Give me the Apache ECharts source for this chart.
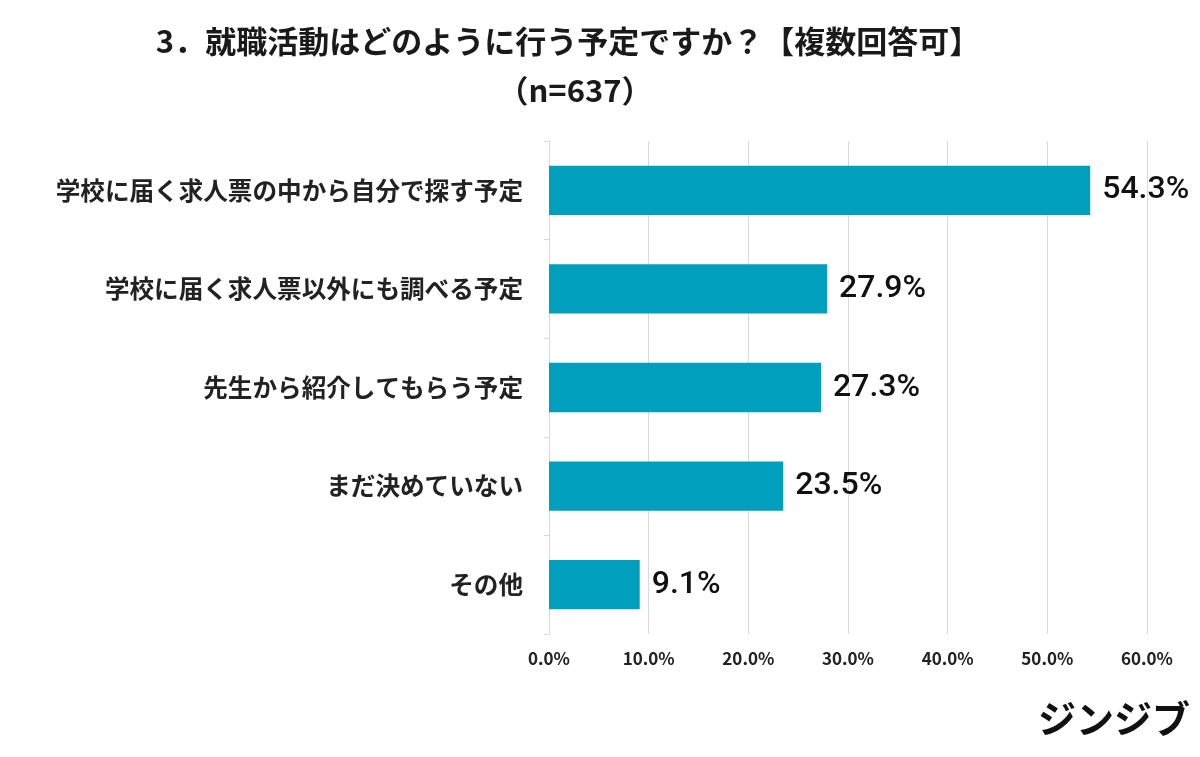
<!DOCTYPE html>
<html><head><meta charset="utf-8">
<script src="https://cdn.jsdelivr.net/npm/echarts@6/dist/echarts.min.js"></script>
<style>html,body{margin:0;padding:0;background:#fff}#c{width:1200px;height:757px}</style>
</head><body><div id="c"></div>
<script>
const categories = ['学校に届く求人票の中から自分で探す予定','学校に届く求人票以外にも調べる予定','先生から紹介してもらう予定','まだ決めていない','その他'];
const values = [54.3, 27.9, 27.3, 23.5, 9.1];
const titleText = '3．就職活動はどのように行う予定ですか？【複数回答可】';
const subText = '（n=637）';
const brand = 'ジンジブ';

const chart = echarts.init(document.getElementById('c'));
chart.setOption({
  backgroundColor: '#fff',
  animation: false,
  graphic: [
    {type:'text', x: 568, y: 26, style:{text: titleText, font:'bold 31px "Noto Sans CJK JP"', fill:'#1a1a1a', textAlign:'center', textVerticalAlign:'top'}},
    {type:'text', x: 575, y: 75, style:{text: subText, font:'bold 31px "Noto Sans CJK JP"', fill:'#1a1a1a', textAlign:'center', textVerticalAlign:'top'}},
    {type:'text', x: 1190, y: 700, style:{text: brand, font:'bold 38px "Noto Sans CJK JP"', fill:'#111', textAlign:'right', textVerticalAlign:'top'}}
  ],
  grid: {left: 549, right: 53, top: 141, bottom: 123},
  xAxis: {
    type:'value', min:0, max:60, interval:10,
    axisLine:{show:false}, axisTick:{show:false},
    splitLine:{lineStyle:{color:'#d9d9d9', width:1}},
    axisLabel:{formatter: v => v.toFixed(1)+'%', fontSize:17, fontWeight:'bold', color:'#222', margin:16, fontFamily:'"Noto Sans CJK JP"'}
  },
  yAxis: {
    type:'category', data: categories, inverse:true,
    axisLine:{lineStyle:{color:'#d9d9d9'}},
    axisTick:{show:true, length:5, lineStyle:{color:'#d9d9d9'}},
    axisLabel:{fontSize:24.6, fontWeight:'bold', color:'#222', margin:26, fontFamily:'"Noto Sans CJK JP"'}
  },
  series: [{
    type:'bar', data: values, barWidth:'50%',
    itemStyle:{color:'#009FBD'},
    label:{show:true, position:'right', distance:12, formatter: p => p.value.toFixed(1)+'%',
      fontSize:32, fontWeight:500, color:'#111', fontFamily:'Roboto, sans-serif'}
  }]
});
</script></body></html>
